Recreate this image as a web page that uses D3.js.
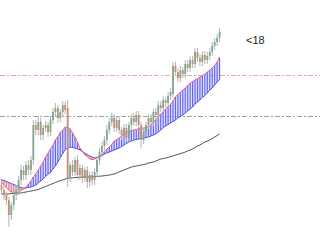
<!DOCTYPE html>
<html>
<head>
<meta charset="utf-8">
<script src="https://cdn.jsdelivr.net/npm/d3@7"></script>
<style>
  body { margin: 0; background: #fff; }
  svg { display: block; }
</style>
</head>
<body>
<svg id="chart" width="320" height="240"></svg>
<script>
// candles (price units)
const opens  = [55,50,45,40,25,35,45,50,60,70,65,75,70,80,115,110,118,105,112,115,108,120,128,132,122,128,135,132,62,75,68,80,65,72,62,70,58,65,60,68,80,88,94,100,110,118,122,112,120,110,105,112,102,115,122,118,125,115,100,108,115,122,118,128,125,135,132,140,137,144,146,174,168,162,170,166,176,172,180,176,188,182,178,185,180,184,188,194,198,202];
const closes = [50,45,40,25,35,45,50,60,70,65,75,70,80,115,110,118,105,112,115,108,120,128,132,122,128,135,130,62,75,68,80,65,72,62,70,58,65,60,68,80,88,94,100,110,118,122,112,120,110,105,112,102,115,122,118,125,115,100,108,115,122,118,128,125,135,132,140,137,144,148,174,168,162,170,166,176,172,180,176,188,182,178,185,180,184,188,194,198,202,208];
const highs  = [58,54,48,43,38,48,55,64,75,74,79,80,84,120,120,124,122,115,119,118,124,132,137,135,131,139,138,140,78,80,83,85,76,75,73,74,68,69,72,84,92,98,104,115,122,127,126,124,124,113,116,116,118,126,127,129,129,118,112,118,126,126,131,132,139,139,144,143,148,152,178,178,172,174,173,180,180,184,184,192,192,186,189,189,188,192,198,202,206,212];
const lows   = [45,40,35,13,20,30,40,45,55,60,60,65,65,75,105,105,100,100,108,103,104,116,124,117,118,124,126,53,58,64,64,60,60,57,58,52,53,55,55,63,75,84,90,95,106,114,108,108,106,100,100,98,98,110,114,114,111,92,96,104,111,114,114,121,121,128,128,133,133,140,142,164,158,158,162,162,168,168,172,172,178,174,174,176,176,180,184,190,194,198];

// moving averages
const fastMA = [58,55,52.5,50,48,47.5,47,48,49.5,51,52.5,56,59,63,66,70,74,78,83,87,91,95,100,103.5,107.5,110,113,113,111,107,103,98,92,89,85,83.5,81,80.5,81,82,83.5,86,88.5,91,93,95.5,99,100.5,102,104,106,107.5,109,109.5,110,110.5,111.5,112,112,112.5,113.5,115,118,120,123,126,128,131,133.5,135.5,139,143,145.5,148,150,152,154.5,157,158.5,160,161.5,163,164.5,166,168,170,172,174.5,178,183];
const slowMA = [60.5,59.5,58.5,57.5,56.5,55.5,54.5,53.5,52.5,52,52,52.5,53,54,55,57,59,61,63.5,66,67.5,71,74,78,82.5,86.5,90.5,92,93,92.5,92,91,90,88.5,87,85.5,84,83,82,82.5,83,84.5,86,87,88,89,90,91,92,93.5,95,96.5,98,99,100,100.5,101,101.5,102,102.5,103,104,105,106,108,110,112.5,114,115.5,117,118.5,120,122,123.5,125,127,129,131,133,136,138,140,142.5,144.5,147,150,152,155,158,160];
const longMA = [46,46,46,46,46.5,46.5,46.5,47,47,47.5,48,48.5,49,49.5,50,50.5,51.5,52.5,53.5,54.5,55.5,56.5,57.5,58.5,59.5,60,61,61.5,62,62.2,62.4,62.6,62.8,63,63,63,63,63.2,63.4,63.6,63.8,64,64.3,64.6,65,65.5,66,67,68,69,70,71,72,73,73.5,74,74.5,75,75.5,76,77,77.5,78,79,80,81,81.5,82,82.5,83.5,84,85,85.5,86.5,87,88,89,90,91,92.5,94,95,96.5,98,99,100,101.5,103,104.5,106];

// horizontal levels and label
const levels = [
  {value: 165, color: "#f2a49c"},
  {value: 124, color: "#a0a0a0"}
];
const labelText = "<18";

const width = 320, height = 240;
const svg = d3.select("#chart");

const n = closes.length;
const x = d3.scaleLinear().domain([0, n - 1]).range([1.5, 219.55]);
const y = d3.scaleLinear().domain([0, 240]).range([height, 0]);

const idx = d3.range(n);

//----------- levels
for (let lv of levels) {
  svg.append("line")
    .attr("x1", 0).attr("x2", width)
    .attr("y1", Math.round(y(lv.value)) + 0.5)
    .attr("y2", Math.round(y(lv.value)) + 0.5)
    .attr("stroke", lv.color)
    .attr("stroke-width", 1)
    .attr("stroke-dasharray", "5,2,2,2");
}

//----------- cloud between fast and slow MA
const up = i => fastMA[i] >= slowMA[i];

svg.append("path")
  .datum(idx)
  .attr("d", d3.area().x(i => x(i)).y0(i => y(slowMA[i])).y1(i => y(fastMA[i])))
  .attr("fill", "#d0d0ff")
  .attr("opacity", 0.6);

svg.append("g").selectAll("line")
  .data(idx)
  .join("line")
  .attr("x1", i => x(i)).attr("x2", i => x(i))
  .attr("y1", i => y(fastMA[i]))
  .attr("y2", i => y(slowMA[i]))
  .attr("stroke", i => up(i) ? "#5a5af4" : "#f07272")
  .attr("stroke-width", 1.2)
  .attr("opacity", 0.9);

svg.append("path")
  .datum(idx)
  .attr("d", d3.line().x(i => x(i)).y(i => y(slowMA[i])))
  .attr("fill", "none")
  .attr("stroke", "#5050f0")
  .attr("stroke-width", 1);

svg.append("path")
  .datum(idx)
  .attr("d", d3.line().x(i => x(i)).y(i => y(fastMA[i])))
  .attr("fill", "none")
  .attr("stroke", "#f06464")
  .attr("stroke-width", 1);

//----------- long MA
svg.append("path")
  .datum(idx)
  .attr("d", d3.line().x(i => x(i)).y(i => y(longMA[i])))
  .attr("fill", "none")
  .attr("stroke", "#505050")
  .attr("stroke-width", 1);

//----------- candles
const cg = svg.append("g");
cg.selectAll("line.wick")
  .data(idx)
  .join("line")
  .attr("class", "wick")
  .attr("x1", i => x(i)).attr("x2", i => x(i))
  .attr("y1", i => y(highs[i]))
  .attr("y2", i => y(lows[i]))
  .attr("stroke", "#b4b4b4")
  .attr("stroke-width", 1);

cg.selectAll("rect")
  .data(idx)
  .join("rect")
  .attr("x", i => x(i) - 0.9)
  .attr("width", 1.8)
  .attr("y", i => y(Math.max(opens[i], closes[i])))
  .attr("height", i => Math.max(1, Math.abs(y(opens[i]) - y(closes[i]))))
  .attr("fill", i => closes[i] >= opens[i] ? "#7ea88b" : "#cb8a76");

//----------- label
svg.append("text")
  .attr("x", 246)
  .attr("y", 44)
  .attr("font-family", "Liberation Sans, Arial, sans-serif")
  .attr("font-size", 11)
  .attr("fill", "#222")
  .text(labelText);
</script>
</body>
</html>
